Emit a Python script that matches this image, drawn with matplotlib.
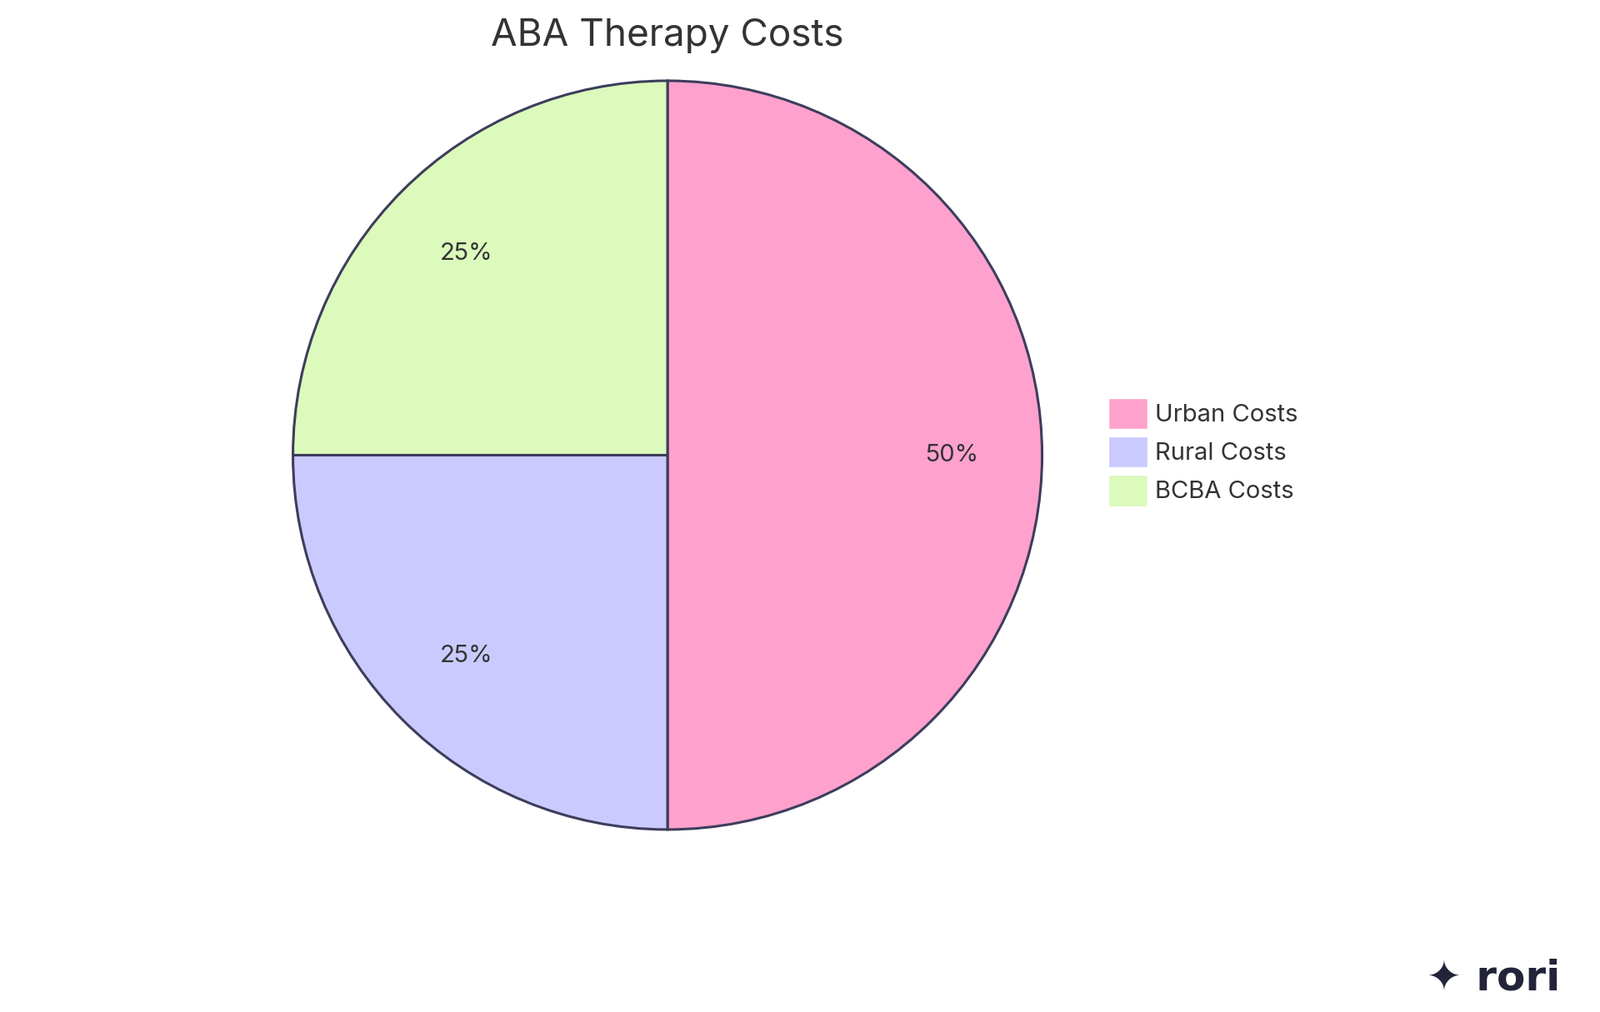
import matplotlib
matplotlib.use("Agg")
import matplotlib.pyplot as plt
from matplotlib.patches import Patch

categories = ["Urban Costs", "Rural Costs", "BCBA Costs"]
values = [50, 25, 25]
colors = ["#FFA1CD", "#CACAFE", "#DCFABB"]

fig = plt.figure(figsize=(19.2, 12.15), dpi=100)
W, H = 1920, 1215
s = 1920 / 1546
cx, cy, r = 645 * s, 440 * s, 363 * s
ax = fig.add_axes([(cx - r) / W, 1 - (cy + r) / H, 2 * r / W, 2 * r / H])
wedges, texts, autotexts = ax.pie(values, colors=colors, startangle=90, counterclock=False,
       autopct="%d%%", pctdistance=0.76,
       wedgeprops=dict(edgecolor="#3D3D5C", linewidth=2.2),
       textprops=dict(fontsize=21, color="#333333", family="Inter"))
ax.set_xlim(-1.003, 1.003)
ax.set_ylim(-1.003, 1.003)
ax.set_aspect("equal")

fig.text(645 * s / W, 1 - 35 * s / H, "ABA Therapy Costs", ha="center", va="center",
         fontsize=33, color="#333333", family="Inter")

handles = [Patch(facecolor=c, edgecolor="white") for c in colors]
fig.legend(handles, categories, loc="center left", bbox_to_anchor=(1050 * s / W, 1 - 437 * s / H),
           frameon=False, handlelength=1.6, handleheight=1.6, labelspacing=0.3,
           handletextpad=0.3, prop=dict(family="Inter", size=21), labelcolor="#333333")

fig.text(1508 * s / W, 1 - 945 * s / H, "✦ rori", ha="right", va="center",
         fontsize=36, fontweight="bold", color="#23233A", family="DejaVu Sans")
fig.savefig("out.png", dpi=100, facecolor="white")
